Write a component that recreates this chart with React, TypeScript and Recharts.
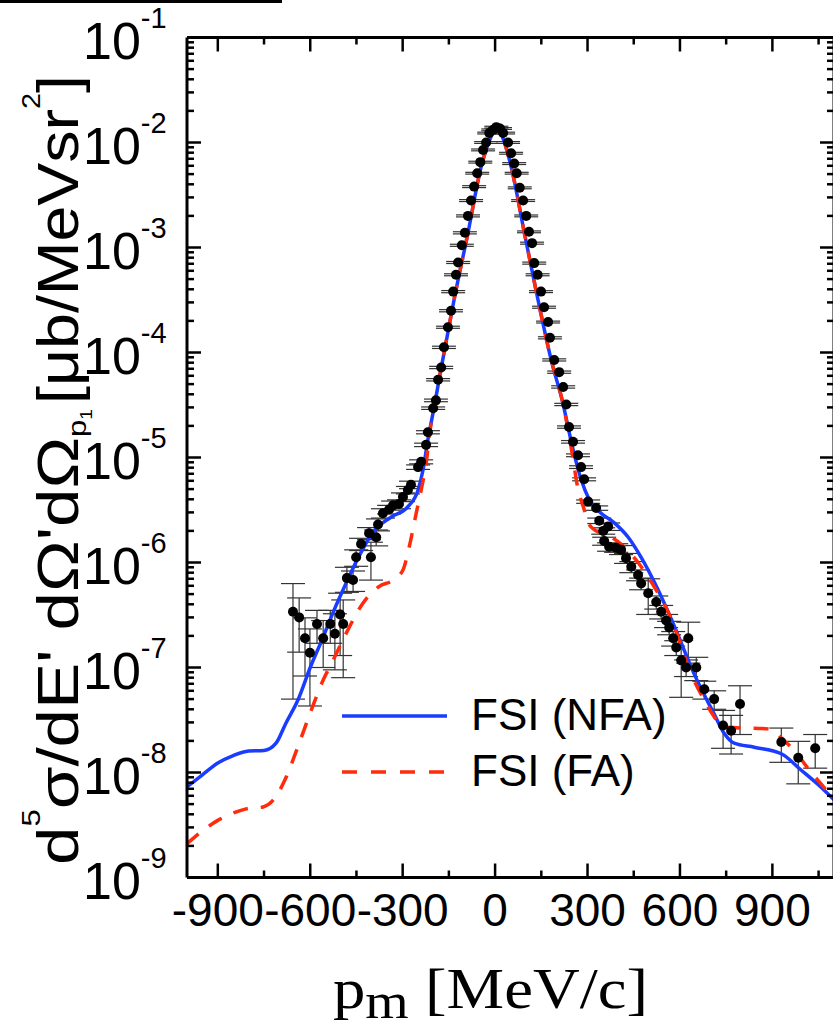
import { ComposedChart, Line, Scatter, XAxis, YAxis, ErrorBar } from 'recharts'

// x in MeV/c, y in ub/(MeV sr^2)
const nfaX = [-1000, -950, -900, -850, -800, -750, -711, -679, -640, -600, -558, -523, -484, -445, -393, -338, -283, -250, -234, -218, -198, -175, -133, -88, -45, -15, 3, 20, 52, 95, 139, 182, 220, 250, 279, 305, 344, 386, 432, 474, 529, 581, 646, 711, 744, 776, 841, 929, 994, 1050, 1100]
const nfaY = [7.3e-9, 9.5e-9, 1.23e-8, 1.45e-8, 1.6e-8, 1.62e-8, 1.9e-8, 2.95e-8, 4.9e-8, 1.0e-7, 1.95e-7, 3.5e-7, 6.3e-7, 1.1e-6, 2.0e-6, 2.7e-6, 3.4e-6, 4.9e-6, 7.6e-6, 1.48e-5, 3.0e-5, 7.1e-5, 3.2e-4, 1.38e-3, 5.9e-3, 1.1e-2, 1.38e-2, 1.2e-2, 5.9e-3, 1.38e-3, 3.2e-4, 8.5e-5, 3.3e-5, 1.3e-5, 6.2e-6, 4.0e-6, 2.95e-6, 2.4e-6, 1.74e-6, 1.12e-6, 5.5e-7, 2.5e-7, 8.7e-8, 3.6e-8, 2.35e-8, 1.9e-8, 1.74e-8, 1.51e-8, 1.05e-8, 7.6e-9, 5.5e-9]

const faX = [-1000, -977, -900, -851, -808, -753, -717, -679, -636, -597, -558, -526, -484, -429, -377, -331, -299, -279, -256, -240, -224, -210, -198, -175, -133, -88, -45, -15, 3, 20, 52, 95, 139, 182, 220, 250, 268, 289, 305, 344, 366, 409, 464, 516, 571, 636, 679, 711, 744, 890, 935, 971, 1026, 1058, 1100]
const faY = [2.1e-9, 2.4e-9, 3.5e-9, 4.1e-9, 4.5e-9, 4.7e-9, 5.6e-9, 8.9e-9, 1.9e-8, 3.9e-8, 7.6e-8, 1.17e-7, 2.1e-7, 4.1e-7, 5.9e-7, 6.8e-7, 8.5e-7, 1.4e-6, 2.95e-6, 4.9e-6, 8.7e-6, 1.9e-5, 3.0e-5, 7.1e-5, 3.2e-4, 1.38e-3, 5.9e-3, 1.1e-2, 1.4e-2, 1.2e-2, 5.9e-3, 1.38e-3, 3.2e-4, 8.5e-5, 3.3e-5, 1.1e-5, 5.2e-6, 3.2e-6, 2.3e-6, 1.9e-6, 1.8e-6, 1.5e-6, 1.0e-6, 5.9e-7, 2.95e-7, 8.7e-8, 4.9e-8, 3.4e-8, 2.7e-8, 2.6e-8, 2.05e-8, 1.62e-8, 1.0e-8, 7.8e-9, 5.5e-9]

// measured points with symmetric errors
const ptX = [-656, -636, -617, -601, -578, -558, -535, -520, -503, -493, -481, -461, -451, -435, -409, -403, -386, -380, -364, -344, -331, -312, -299, -283, -273, -250, -240, -224, -218, -201, -192, -185, -175, -166, -153, -143, -136, -127, -120, -108, -98, -88, -78, -68, -58, -48, -39, -29, -19, -6, 4, 16, 26, 42, 52, 62, 70, 80, 91, 101, 110, 120, 127, 138, 149, 159, 172, 178, 192, 208, 221, 231, 240, 253, 269, 279, 289, 302, 328, 338, 351, 354, 367, 370, 393, 409, 425, 442, 464, 474, 497, 523, 539, 555, 565, 578, 588, 604, 620, 627, 653, 679, 711, 740, 766, 795, 929, 984, 1039]
const ptY = [3.4e-7, 3.0e-7, 1.9e-7, 1.38e-7, 2.6e-7, 1.9e-7, 2.6e-7, 2.1e-7, 3.2e-7, 2.6e-7, 7.1e-7, 6.8e-7, 1.12e-6, 1.5e-6, 1.9e-6, 1.12e-6, 1.74e-6, 2.3e-6, 2.95e-6, 3.2e-6, 3.5e-6, 3.6e-6, 4.2e-6, 4.9e-6, 5.5e-6, 8.1e-6, 9.1e-6, 1.32e-5, 1.74e-5, 2.95e-5, 3.5e-5, 5.5e-5, 7.2e-5, 1.12e-4, 1.74e-4, 2.5e-4, 3.8e-4, 5.5e-4, 7.2e-4, 1.05e-3, 1.38e-3, 2.0e-3, 2.8e-3, 3.8e-3, 5.1e-3, 6.5e-3, 8.5e-3, 1.0e-2, 1.23e-2, 1.32e-2, 1.4e-2, 1.36e-2, 1.23e-2, 1.0e-2, 7.9e-3, 6.3e-3, 5.1e-3, 3.7e-3, 2.8e-3, 2.0e-3, 1.41e-3, 1.1e-3, 7.1e-4, 5.5e-4, 3.8e-4, 2.7e-4, 1.95e-4, 1.38e-4, 8.5e-5, 6.5e-5, 4.7e-5, 3.2e-5, 1.95e-5, 1.41e-5, 1.05e-5, 8.1e-6, 6.2e-6, 3.8e-6, 3.3e-6, 2.5e-6, 2.0e-6, 1.6e-6, 2.2e-6, 1.41e-6, 1.38e-6, 1.32e-6, 1.1e-6, 9.1e-7, 7.6e-7, 6.3e-7, 5.1e-7, 4.2e-7, 3.4e-7, 2.8e-7, 2.4e-7, 1.9e-7, 1.55e-7, 1.17e-7, 1.0e-7, 1.9e-7, 1.0e-7, 6.2e-8, 5.0e-8, 2.8e-8, 2.5e-8, 4.5e-8, 1.95e-8, 1.38e-8, 1.7e-8]
const ptErr = [2.9e-7, 1.6e-7, 1.07e-7, 9.5e-8, 9e-8, 9e-8, 9e-8, 1.15e-7, 1.9e-7, 1.8e-7, 1.9e-7, 1.5e-7, 2e-7, 2e-7, 2.5e-7, 4.4e-7, 3e-7, 3e-7, 3e-7, 3e-7, 3.5e-7, 3.5e-7, 4e-7, 4e-7, 4.5e-7, 4e-7, 4e-7, 5e-7, 6e-7, 8e-7, 1e-6, 1.4e-6, 1.8e-6, 2.8e-6, 4e-6, 6e-6, 9e-6, 1.2e-5, 1.6e-5, 2.4e-5, 3.2e-5, 4.4e-5, 6e-5, 8e-5, 1e-4, 1.3e-4, 1.7e-4, 2e-4, 2.4e-4, 2.6e-4, 2.8e-4, 2.7e-4, 2.4e-4, 2e-4, 1.6e-4, 1.3e-4, 1e-4, 7.5e-5, 5.6e-5, 4e-5, 2.8e-5, 2.4e-5, 1.6e-5, 1.2e-5, 8e-6, 6e-6, 4e-6, 3.2e-6, 2e-6, 1.6e-6, 1.2e-6, 8e-7, 5e-7, 4e-7, 3.2e-7, 2.4e-7, 2e-7, 1.4e-7, 1.6e-7, 1.5e-7, 1.4e-7, 1.4e-7, 1.8e-7, 1.3e-7, 1.3e-7, 1.3e-7, 1.2e-7, 1.1e-7, 9e-8, 8e-8, 1.9e-7, 6e-8, 5e-8, 4e-8, 3.5e-8, 3e-8, 2.5e-8, 6.5e-8, 1.8e-8, 8e-8, 2.5e-8, 1.2e-8, 1e-8, 1.1e-8, 1e-8, 2.2e-8, 7e-9, 6e-9, 6e-9]

const xTicks = [-900, -750, -600, -450, -300, -150, 0, 150, 300, 450, 600, 750, 900, 1050]
const yExp = [-9, -8, -7, -6, -5, -4, -3, -2, -1]
const yTicks: number[] = []
yExp.forEach((e) => {
  yTicks.push(Math.pow(10, e))
  if (e < -1) for (let m = 2; m <= 9; m++) yTicks.push(m * Math.pow(10, e))
})

const nfa = nfaX.map((x, i) => ({ x, y: nfaY[i] }))
const fa = faX.map((x, i) => ({ x, y: faY[i] }))
const points = ptX.map((x, i) => ({ x, y: ptY[i], err: ptErr[i] }))

const BLUE = '#1a3cff'
const RED = '#ff2b0b'
const SANS = '"Liberation Sans", Arial, sans-serif'
const SERIF = '"Liberation Serif", "Times New Roman", serif'

const isMajorY = (v: number) => Math.abs(Math.log10(v) - Math.round(Math.log10(v))) < 1e-6

function BottomTick({ x, y, payload }: any) {
  const major = payload.value % 300 === 0
  return (
    <g>
      <line x1={x} x2={x} y1={y} y2={y - (major ? 14 : 7)} stroke="#000" strokeWidth={2.5} />
      {major && (
        <text x={x} y={y + 48.5} textAnchor="middle" fontSize={46} fontFamily={SANS} fill="#000">
          {payload.value}
        </text>
      )}
    </g>
  )
}

function TopTick({ x, y, payload }: any) {
  const major = payload.value % 300 === 0
  return <line x1={x} x2={x} y1={y} y2={y + (major ? 14 : 7)} stroke="#000" strokeWidth={2.5} />
}

function LeftTick({ x, y, payload }: any) {
  const major = isMajorY(payload.value)
  const e = Math.round(Math.log10(payload.value))
  return (
    <g>
      <line x1={x} x2={x + (major ? 14 : 7)} y1={y} y2={y} stroke="#000" strokeWidth={2.5} />
      {major && (
        <text x={83} y={y + 21.5} fontSize={52} fontFamily={SANS} fill="#000">
          10<tspan dy={-31} fontSize={29}>{e}</tspan>
        </text>
      )}
    </g>
  )
}

function RightTick({ x, y, payload }: any) {
  const major = isMajorY(payload.value)
  return <line x1={x} x2={x - (major ? 14 : 7)} y1={y} y2={y} stroke="#000" strokeWidth={2.5} />
}

const Dot = (p: any) => <circle cx={p.cx} cy={p.cy} r={5} fill="#000" />

export default function App() {
  return (
    <div style={{ position: 'relative', width: 833, height: 1030, overflow: 'hidden', background: '#fff' }}>
      <style>{`body{margin:0;overflow:hidden}`}</style>
      <div style={{ position: 'absolute', left: 0, top: 0, width: 282, height: 3, background: '#000' }} />
      <ComposedChart width={836} height={1030} margin={{ top: 36.5, right: 0, bottom: 0, left: 0 }}>
        <XAxis xAxisId="b" dataKey="x" type="number" domain={[-1000, 1100]} allowDataOverflow ticks={xTicks} interval={0}
          tickSize={0} tickMargin={0} tickLine={false} height={152.5} axisLine={{ stroke: '#000', strokeWidth: 3 }}
          tick={(p: any) => <BottomTick {...p} />} />
        <XAxis xAxisId="t" orientation="top" dataKey="x" type="number" domain={[-1000, 1100]} allowDataOverflow ticks={xTicks} interval={0}
          tickSize={0} tickMargin={0} tickLine={false} height={1} axisLine={{ stroke: '#000', strokeWidth: 3 }}
          tick={(p: any) => <TopTick {...p} />} />
        <YAxis yAxisId="l" dataKey="y" type="number" scale="log" domain={[1e-9, 1e-1]} allowDataOverflow ticks={yTicks} interval={0}
          tickSize={0} tickMargin={0} tickLine={false} width={187} axisLine={{ stroke: '#000', strokeWidth: 3 }}
          tick={(p: any) => <LeftTick {...p} />} />
        <YAxis yAxisId="r" orientation="right" dataKey="y" type="number" scale="log" domain={[1e-9, 1e-1]} allowDataOverflow ticks={yTicks} interval={0}
          tickSize={0} tickMargin={0} tickLine={false} width={2} axisLine={{ stroke: '#000', strokeWidth: 3 }}
          tick={(p: any) => <RightTick {...p} />} />
        <Line data={nfa} xAxisId="t" yAxisId="r" dataKey="y" stroke="none" dot={false} isAnimationActive={false} />
        <Scatter data={points} xAxisId="b" yAxisId="l" dataKey="y" fill="#000" shape={Dot} isAnimationActive={false}>
          <ErrorBar dataKey="err" direction="y" width={12} stroke="#333" strokeWidth={1.2} />
        </Scatter>
        <Line data={nfa} xAxisId="b" yAxisId="l" dataKey="y" type="monotone" stroke={BLUE} strokeWidth={3.5} dot={false} isAnimationActive={false} />
        <Line data={fa} xAxisId="b" yAxisId="l" dataKey="y" type="monotone" stroke={RED} strokeWidth={3.5} strokeDasharray="15 13" dot={false} isAnimationActive={false} />
      </ComposedChart>
      <svg width={833} height={1030} style={{ position: 'absolute', left: 0, top: 0, pointerEvents: 'none' }}>
        <line x1={342} x2={447} y1={716} y2={716} stroke={BLUE} strokeWidth={3.5} />
        <text x={471} y={730} fontSize={44} fontFamily={SANS}>FSI (NFA)</text>
        <line x1={342} x2={447} y1={772} y2={772} stroke={RED} strokeWidth={3.5} strokeDasharray="15 14" />
        <text x={471} y={786} fontSize={44} fontFamily={SANS}>FSI (FA)</text>
        <text x={78} y={865} transform="rotate(-90 78 865)" fontSize={58} fontFamily={SANS}
          textLength={456} lengthAdjust="spacingAndGlyphs">
          d<tspan dy={-38} fontSize={26}>5</tspan><tspan dy={38}>σ/dE' dΩ'dΩ</tspan><tspan dy={8} fontSize={26}>p</tspan><tspan dy={6} fontSize={16}>1</tspan>
        </text>
        <text x={78} y={404} transform="rotate(-90 78 404)" fontSize={58} fontFamily={SANS}
          textLength={329} lengthAdjust="spacingAndGlyphs">
          [μb/MeVsr<tspan dy={-38} fontSize={26}>2</tspan><tspan dy={38}>]</tspan>
        </text>
        <text x={333} y={1008} fontSize={58} fontFamily={SERIF} textLength={315} lengthAdjust="spacingAndGlyphs">
          p<tspan dy={10} fontSize={50}>m</tspan><tspan dy={-10}> [MeV/c]</tspan>
        </text>
      </svg>
    </div>
  )
}
